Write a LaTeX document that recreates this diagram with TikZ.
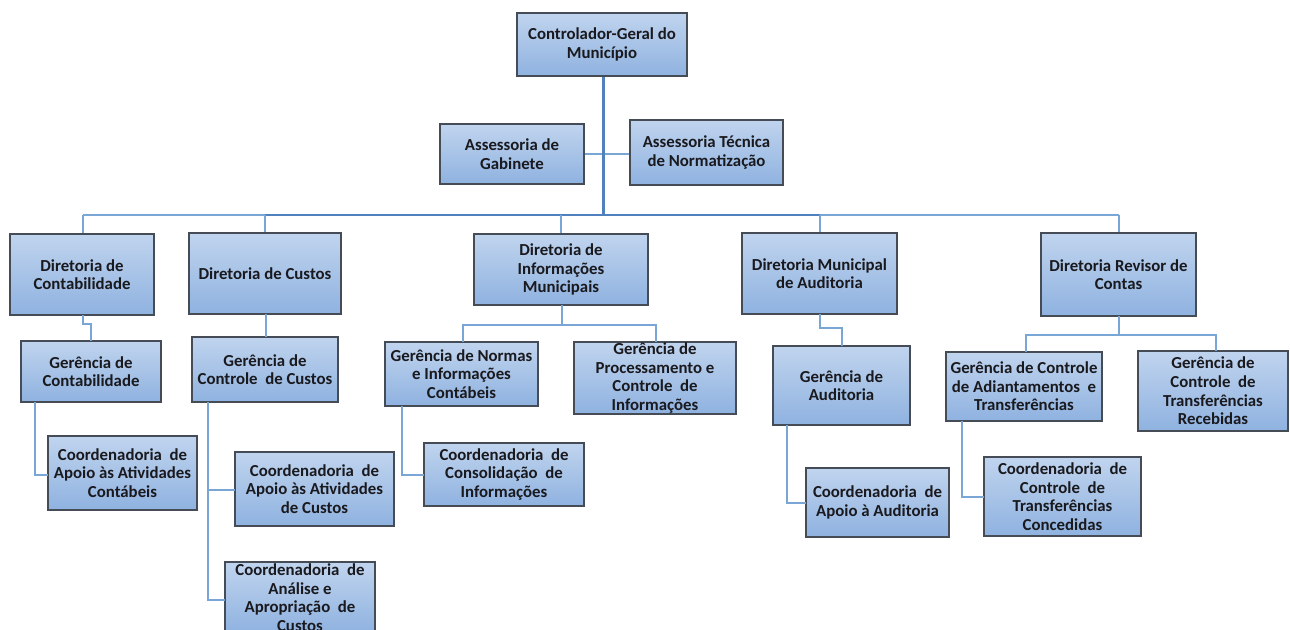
\documentclass[tikz,border=0pt]{standalone}
\usepackage{fontspec}
\setmainfont{Carlito}
\usetikzlibrary{calc}
\definecolor{boxtop}{RGB}{192,212,238}
\definecolor{boxbot}{RGB}{143,178,224}
\definecolor{boxline}{RGB}{70,76,86}
\definecolor{connc}{RGB}{122,166,214}
\definecolor{trunkc}{RGB}{80,128,190}
\definecolor{txtc}{RGB}{25,25,30}
\tikzset{
  box/.style={draw=boxline, line width=1.2pt, top color=boxtop, bottom color=boxbot,
    rectangle, inner sep=0pt, outer sep=0pt, align=center, text=txtc,
    font=\fontsize{16.8}{18.6}\selectfont\bfseries},
  conn/.style={draw=connc, line width=1.5pt},
  bus/.style={draw=trunkc, line width=2.2pt},
  trunk/.style={draw=trunkc, line width=3pt},
}
\newcommand\mkbox[6]{%
  \pgfmathsetmacro\bw{#4-#2}\pgfmathsetmacro\bh{#5-#3}%
  \node[box, minimum width=\bw pt, minimum height=\bh pt] (#1) at ({(#2+#4)/2},{(#3+#5)/2}) {#6};}
\begin{document}
\begin{tikzpicture}[x=1pt,y=-1pt]
\useasboundingbox (0,0) rectangle (1290,629);
\clip (0,0) rectangle (1290,629);
\fill[white] (0,0) rectangle (1290,629);

% junction coordinates
\coordinate (bus) at (603,215);

% connectors (drawn first, under boxes)
\draw[conn] (584,154) -- (630,154);
\draw[conn] (83,215) -- (265,215);
\draw[conn] (820,215) -- (1119,215);
\draw[bus] (265,215) -- (820,215);
\draw[trunk] (603,76) -- (bus);
\draw[conn] (83,215) -- (83,234);
\draw[conn] (265,215) -- (265,233);
\draw[conn] (561,215) -- (561,234);
\draw[conn] (820,215) -- (820,233);
\draw[conn] (1119,215) -- (1119,233);

% boxes
\mkbox{ctrl}{517}{13}{687}{76}{Controlador-Geral do\\Município}
\mkbox{gab}{440}{124}{584}{184}{Assessoria de\\Gabinete}
\mkbox{tec}{630}{120}{783}{185}{Assessoria Técnica\\de Normatização}
\mkbox{dcont}{10}{234}{154}{315}{Diretoria de\\Contabilidade}
\mkbox{dcust}{189}{233}{341}{314}{Diretoria de Custos}
\mkbox{dinf}{474}{234}{648}{305}{Diretoria de\\Informações\\Municipais}
\mkbox{daud}{742}{233}{897}{314}{Diretoria Municipal\\de Auditoria}
\mkbox{drev}{1041}{233}{1196}{316}{Diretoria Revisor de\\Contas}
\mkbox{gcont}{21}{341}{161}{402}{Gerência de\\Contabilidade}
\mkbox{gcust}{192}{337}{338}{402}{Gerência de\\Controle\ \ de Custos}
\mkbox{gnorm}{385}{342}{538}{406}{Gerência de Normas\\e Informações\\Contábeis}
\mkbox{gproc}{574}{342}{736}{414}{Gerência de\\Processamento e\\Controle\ \ de\\Informações}
\mkbox{gaud}{773}{346}{910}{425}{Gerência de\\Auditoria}
\mkbox{gadi}{946}{352}{1102}{421}{Gerência de Controle\\de Adiantamentos\ \ e\\Transferências}
\mkbox{grec}{1138}{351}{1288}{431}{Gerência de\\Controle\ \ de\\Transferências\\Recebidas}
\mkbox{ccont}{48}{436}{197}{510}{Coordenadoria\ \ de\\Apoio às Atividades\\Contábeis}
\mkbox{ccust}{235}{452}{394}{526}{Coordenadoria\ \ de\\Apoio às Atividades\\de Custos}
\mkbox{cana}{225}{562}{375}{633}{Coordenadoria\ \ de\\Análise e\\Apropriação\ \ de\\Custos}
\mkbox{ccons}{424}{443}{584}{506}{Coordenadoria\ \ de\\Consolidação\ \ de\\Informações}
\mkbox{caud}{806}{468}{949}{537}{Coordenadoria\ \ de\\Apoio à Auditoria}
\mkbox{cconc}{984}{457}{1141}{536}{Coordenadoria\ \ de\\Controle\ \ de\\Transferências\\Concedidas}

% lower connectors
\coordinate (j1) at (83,324);
\coordinate (j2) at (91,324);
\draw[conn] (dcont.south -| j1) -- (j1) -- (j2) -- (gcont.north -| j2);
\coordinate (j0) at (266,320);
\draw[conn] (dcust.south -| j0) -- (gcust.north -| j0);

\coordinate (j3) at (562,325);
\coordinate (j3l) at (463,325);
\coordinate (j3r) at (656,325);
\draw[conn] (dinf.south -| j3) -- (j3);
\draw[conn] (gnorm.north -| j3l) -- (j3l) -- (j3r) -- (gproc.north -| j3r);

\coordinate (j4) at (820,328);
\coordinate (j5) at (842,328);
\draw[conn] (daud.south -| j4) -- (j4) -- (j5) -- (gaud.north -| j5);

\coordinate (j6) at (1119,335);
\coordinate (j6l) at (1026,335);
\coordinate (j6r) at (1216,335);
\draw[conn] (drev.south -| j6) -- (j6);
\draw[conn] (gadi.north -| j6l) -- (j6l) -- (j6r) -- (grec.north -| j6r);

\coordinate (k1) at (35,475);
\draw[conn] (gcont.south -| k1) -- (k1) -- (ccont.west |- k1);

\coordinate (k2) at (208,490);
\coordinate (k3) at (208,600);
\draw[conn] (gcust.south -| k2) -- (k3) -- (cana.west |- k3);
\draw[conn] (k2) -- (ccust.west |- k2);

\coordinate (k4) at (402,475);
\draw[conn] (gnorm.south -| k4) -- (k4) -- (ccons.west |- k4);

\coordinate (k5) at (787,503);
\draw[conn] (gaud.south -| k5) -- (k5) -- (caud.west |- k5);

\coordinate (k6) at (962,497);
\draw[conn] (gadi.south -| k6) -- (k6) -- (cconc.west |- k6);
\end{tikzpicture}
\end{document}
